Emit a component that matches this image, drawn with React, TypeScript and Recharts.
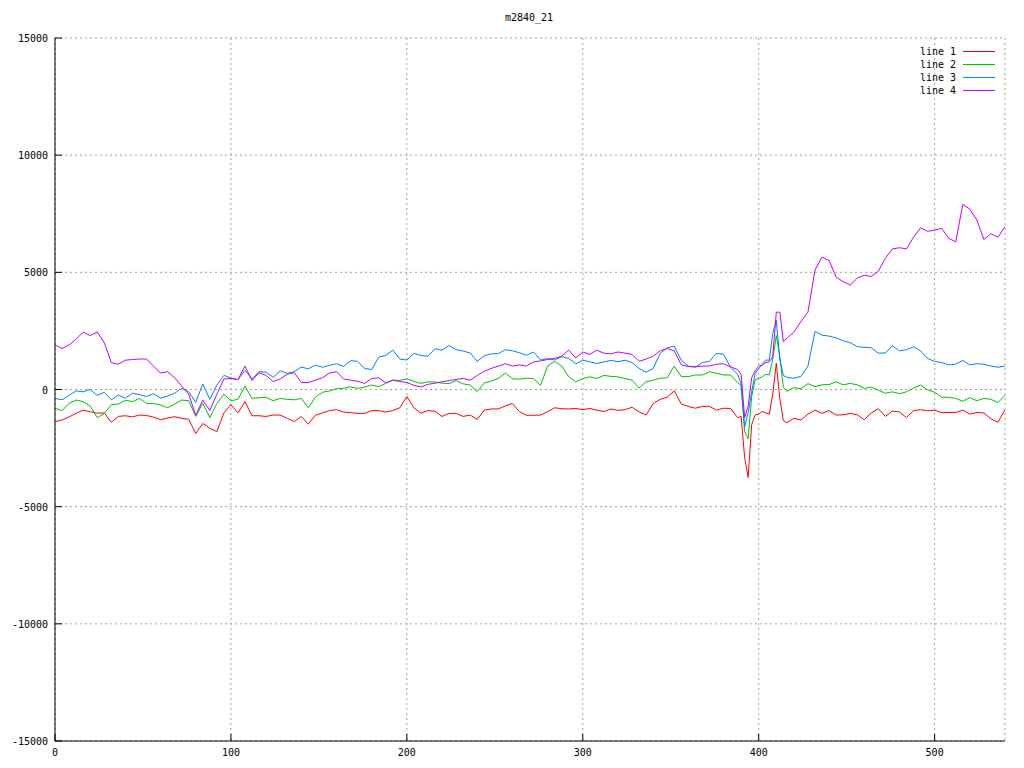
import { LineChart, Line, XAxis, YAxis, CartesianGrid } from "recharts";

// x positions (finer around the spikes near 400)
const X = [
  0, 4, 8, 12, 16, 20, 24, 28, 32, 36,
  40, 44, 48, 52, 56, 60, 64, 68, 72, 76,
  80, 84, 88, 92, 96, 100, 104, 108, 112, 116,
  120, 124, 128, 132, 136, 140, 144, 148, 152, 156,
  160, 164, 168, 172, 176, 180, 184, 188, 192, 196,
  200, 204, 208, 212, 216, 220, 224, 228, 232, 236,
  240, 244, 248, 252, 256, 260, 264, 268, 272, 276,
  280, 284, 288, 292, 296, 300, 304, 308, 312, 316,
  320, 324, 328, 332, 336, 340, 344, 348, 352, 356,
  360, 364, 368, 372, 376, 380, 384, 388,
  390, 392, 394, 396, 398, 400, 402, 404, 406, 408, 410, 412, 414, 416,
  420, 424, 428, 432, 436, 440, 444, 448, 452, 456,
  460, 464, 468, 472, 476, 480, 484, 488, 492, 496,
  500, 504, 508, 512, 516, 520, 524, 528, 532, 536,
  540,
];

const LINE1 = [
  -1370, -1300, -1170, -1020, -880, -950, -1010, -1000, -1400, -1150,
  -1120, -1170, -1090, -1110, -1180, -1290, -1220, -1160, -1230, -1270,
  -1880, -1450, -1650, -1800, -1000, -650, -1000, -520, -1120, -1120,
  -1150, -1090, -1090, -1230, -1370, -1150, -1480, -1100, -1000, -900,
  -860, -960, -990, -1020, -1020, -900, -900, -960, -900, -780,
  -300, -780, -1010, -900, -930, -1150, -1020, -1020, -1150, -1090,
  -1280, -880, -830, -830, -700, -600, -950, -1100, -1100, -1090,
  -950, -780, -820, -830, -810, -860, -810, -880, -940, -830,
  -890, -860, -760, -950, -1090, -600, -420, -330, -60, -620,
  -720, -800, -720, -720, -880, -800, -810, -1200,
  -1150, -2900, -3750, -1500, -1090, -1040, -940, -1000, -1050, -200, 1120, -400, -1330, -1420,
  -1230, -1300, -1050, -880, -1020, -900, -1090, -1080, -1020, -1080,
  -1290, -1000, -820, -1150, -920, -960, -1200, -900, -860, -910,
  -880, -990, -980, -980, -880, -1050, -980, -1000, -1250, -1400,
  -870,
];

const LINE2 = [
  -800, -900, -590, -450, -520, -700, -1200, -1030, -650, -620,
  -460, -520, -380, -600, -600, -660, -780, -620, -450, -480,
  -1150, -590, -1200, -600, -200, -480, -420, 150, -380, -350,
  -330, -480, -380, -420, -440, -380, -780, -330, -120, -60,
  30, 50, 110, 50, 100, 190, 120, 265, 400, 390,
  460, 340, 260, 330, 320, 270, 250, 380, 240, 190,
  -90, 280, 360, 470, 700, 460, 440, 480, 470, 180,
  1000, 1200, 1000, 550, 330, 470, 540, 470, 600, 560,
  540, 470, 400, 60, 330, 400, 480, 500, 1000, 550,
  550, 620, 620, 760, 690, 620, 620, 300,
  180, -1800, -2100, -300, 420, 480, 540, 650, 620, 1300, 2300, 1400, 100, -80,
  80, 30, 250, 120, 200, 210, 330, 200, 260, 200,
  50, 100, -30, -160, -100, -180, -100, 60, 190, -20,
  -120, -330, -330, -380, -500, -350, -480, -380, -420, -560,
  -250,
];

const LINE3 = [
  -380, -440, -250, -60, -100, 0, -250, -120, -440, -240,
  -370, -160, -220, -300, -180, -370, -280, -160, 50, -100,
  -550, 240, -420, 190, 600, 500, 420, 820, 450, 760,
  740, 520, 800, 690, 760, 960, 880, 1040, 950, 1030,
  1100, 980, 1230, 1200, 900, 850, 1380, 1450, 1680, 1300,
  1260, 1540, 1450, 1420, 1740, 1680, 1880, 1700, 1640, 1560,
  1200, 1440, 1520, 1530, 1700, 1650, 1570, 1460, 1600, 1260,
  1320, 1260, 1400, 1330, 1100, 1250, 1180, 1110, 1180, 1240,
  1190, 1250, 1150, 900, 740, 900, 1540, 1780, 1850, 1250,
  1000, 950, 1150, 1200, 1540, 1500, 950, 650,
  250, -1600, -1000, -100, 690, 900, 1050, 1260, 1250, 2400, 2950, 1300, 600, 520,
  480, 560, 1000, 2480, 2320, 2280, 2200, 2080, 2000, 1830,
  1800, 1780, 1550, 1560, 1870, 1650, 1700, 1820, 1650, 1320,
  1200, 1150, 1050, 1080, 1240, 1050, 1100, 1080, 1000, 950,
  1000,
];

const LINE4 = [
  1900, 1750, 1900, 2150, 2450, 2300, 2450, 2000, 1150, 1080,
  1250, 1280, 1300, 1300, 1000, 700, 760, 500, 150, -200,
  -1100, -450, -900, -200, 450, 470, 420, 1000, 380, 720,
  600, 340, 450, 650, 720, 300, 300, 400, 500, 700,
  760, 450, 400, 350, 260, 470, 500, 290, 400, 340,
  300, 180, 110, 220, 270, 330, 380, 430, 470, 400,
  600, 780, 900, 1000, 1100, 1000, 1050, 1000, 1180, 1220,
  1280, 1330, 1420, 1680, 1350, 1600, 1500, 1680, 1550, 1520,
  1600, 1550, 1500, 1200, 1300, 1420, 1650, 1750, 1650, 1050,
  980, 970, 1000, 1000, 1080, 1100, 970, 850,
  650, -1200, -700, 500, 800, 1000, 1050, 1150, 1180, 1400, 3300, 3300, 2050, 2180,
  2450, 2900, 3300, 5100, 5650, 5500, 4800, 4600, 4460, 4750,
  4880, 4820, 5050, 5600, 6000, 6050, 6000, 6500, 6900, 6750,
  6800, 6880, 6450, 6300, 7900, 7700, 7230, 6400, 6650, 6500,
  6950,
];

const X_TICKS = [0, 100, 200, 300, 400, 500];
const Y_TICKS = [-15000, -10000, -5000, 0, 5000, 10000, 15000];

const SERIES = [
  { key: "l1", name: "line 1", color: "#ff0000" },
  { key: "l2", name: "line 2", color: "#00c000" },
  { key: "l3", name: "line 3", color: "#0080ff" },
  { key: "l4", name: "line 4", color: "#c000ff" },
];

const data = X.map((x, i) => ({ x, l1: LINE1[i], l2: LINE2[i], l3: LINE3[i], l4: LINE4[i] }));

const FONT = "'DejaVu Sans Mono', monospace";
const TICK = 7;

const LeftTick = ({ x, y, payload }: any) => (
  <g>
    <line x1={x} x2={x + TICK} y1={y} y2={y} stroke="#000" />
    <text x={x - 7} y={y + 4} textAnchor="end" fontSize={10} fontFamily={FONT} fill="#000">
      {payload.value}
    </text>
  </g>
);

const RightTick = ({ x, y }: any) => <line x1={x} x2={x - TICK} y1={y} y2={y} stroke="#000" />;

const BottomTick = ({ x, y, payload }: any) => (
  <g>
    <line x1={x} x2={x} y1={y} y2={y - TICK} stroke="#000" />
    <text x={x} y={y + 15} textAnchor="middle" fontSize={10} fontFamily={FONT} fill="#000">
      {payload.value}
    </text>
  </g>
);

const TopTick = ({ x, y }: any) => <line x1={x} x2={x} y1={y} y2={y + TICK} stroke="#000" />;

const LegendBox = () => (
  <div
    style={{
      position: "absolute",
      top: 45,
      left: 844,
      width: 151,
      fontFamily: FONT,
      fontSize: 10,
      lineHeight: "13px",
    }}
  >
    {SERIES.map((s) => (
      <div key={s.key} style={{ display: "flex", alignItems: "center", justifyContent: "flex-end" }}>
        <span style={{ color: "#000" }}>{s.name}</span>
        <span style={{ display: "inline-block", width: 32, height: 1, background: s.color, marginLeft: 7 }} />
      </div>
    ))}
  </div>
);

const App = () => {
  return (
    <div style={{ position: "absolute", left: 0, top: 0, width: 1024, height: 768, background: "#fff" }}>
      <div
        style={{
          position: "absolute",
          top: 12,
          left: 0,
          width: 1058,
          textAlign: "center",
          fontFamily: FONT,
          fontSize: 10,
          color: "#000",
        }}
      >
        m2840_21
      </div>
      <LineChart width={1024} height={768} data={data} margin={{ top: 38, right: 19, bottom: 0, left: 0 }}>
        <CartesianGrid stroke="#a0a0a0" strokeDasharray="2 3" xAxisId="b" yAxisId="l" />
        <XAxis
          xAxisId="b"
          dataKey="x"
          type="number"
          domain={[0, 540]}
          ticks={X_TICKS}
          allowDataOverflow
          height={27}
          tickSize={0}
          tickMargin={0}
          tickLine={false}
          axisLine={{ stroke: "#000" }}
          tick={<BottomTick />}
          interval={0}
        />
        <XAxis
          xAxisId="t"
          orientation="top"
          dataKey="x"
          type="number"
          domain={[0, 540]}
          ticks={X_TICKS}
          allowDataOverflow
          height={0}
          tickSize={0}
          tickMargin={0}
          tickLine={false}
          axisLine={{ stroke: "#000" }}
          tick={<TopTick />}
          interval={0}
        />
        <YAxis
          yAxisId="l"
          type="number"
          domain={[-15000, 15000]}
          ticks={Y_TICKS}
          allowDataOverflow
          width={55}
          tickSize={0}
          tickMargin={0}
          tickLine={false}
          axisLine={{ stroke: "#000" }}
          tick={<LeftTick />}
          interval={0}
        />
        <YAxis
          yAxisId="r"
          orientation="right"
          type="number"
          domain={[-15000, 15000]}
          ticks={Y_TICKS}
          allowDataOverflow
          width={0}
          tickSize={0}
          tickMargin={0}
          tickLine={false}
          axisLine={{ stroke: "#000" }}
          tick={<RightTick />}
          interval={0}
        />
        {SERIES.map((s) => (
          <Line
            key={s.key}
            xAxisId="b"
            yAxisId="l"
            type="linear"
            dataKey={s.key}
            name={s.name}
            stroke={s.color}
            strokeWidth={1}
            dot={false}
            activeDot={false}
            isAnimationActive={false}
          />
        ))}
      </LineChart>
      <LegendBox />
    </div>
  );
};

export default App;
